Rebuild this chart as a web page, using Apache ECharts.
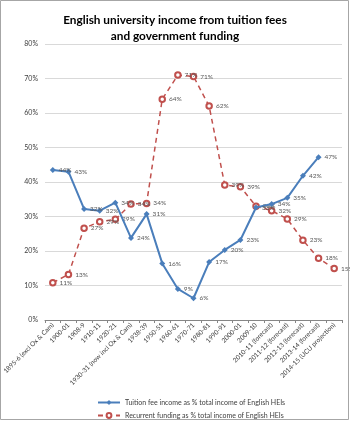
<!DOCTYPE html>
<html>
<head>
<meta charset="utf-8">
<script src="https://cdn.jsdelivr.net/npm/echarts@6/dist/echarts.min.js"></script>
<style>
html, body { margin: 0; padding: 0; background: #fff; }
#chart { width: 350px; height: 421px; }
</style>
</head>
<body>
<div id="chart"></div>
<script>
// 年份类目
var years = ['1895-6 (excl Ox & Cam)', '1900-01', '1908-9', '1910-11', '1920-21',
	'1930-31 (now incl Ox & Cam)', '1938-39', '1950-51', '1960-61', '1970-71',
	'1980-81', '1990-91', '2000-01', '2009-10', '2010-11 (forecast)',
	'2011-12 (forecast)', '2012-13 (forecast)', '2013-14 (forecast)', '2014-15 (UCU projection)'];
// 学费收入占比
var tuition = [43.5, 43, 32.2, 31.7, 34, 23.8, 30.7, 16.4, 9, 6.3, 16.8, 20.3, 23.2,
	32.6, 33.6, 35.4, 41.8, 47.2, null];
// 政府拨款占比
var recurrent = [10.8, 13.2, 26.6, 28.5, 29.2, 33.6, 33.8, 64, 71, 70.6, 62, 39.1, 38.6,
	33, 31.7, 29.3, 23.1, 17.9, 14.9];
var yTicks = [0, 10, 20, 30, 40, 50, 60, 70, 80];
var names = ['Tuition fee income as % total income of English HEIs',
	'Recurrent funding as % total income of English HEIs'];

var font = 'Lato';
var myChart = echarts.init(document.getElementById('chart'));
var label = {
	show: true,
	position: 'right',
	distance: 3,
	fontSize: 6.5,
	fontFamily: font,
	color: '#595959',
	formatter: function (p) { return Math.round(p.value) + '%'; }
};
var legendBase = {
	left: 92,
	itemWidth: 22,
	itemHeight: 6,
	textStyle: { fontSize: 7, fontFamily: font, color: '#404040' }
};
var option = {
	animation: false,
	title: {
		text: 'English university income from tuition fees\nand government funding',
		left: 'center',
		top: 7,
		textStyle: { fontSize: 11.8, fontWeight: 'bold', fontFamily: font, color: '#000', lineHeight: 16 }
	},
	graphic: [{
		type: 'rect',
		shape: { x: 0.5, y: 0.5, width: 348, height: 419 },
		style: { fill: 'none', stroke: '#a6a6a6', lineWidth: 1 },
		silent: true
	}],
	legend: [
		Object.assign({ top: 394, data: [names[0]] }, legendBase),
		Object.assign({ top: 407, data: [names[1]] }, legendBase)
	],
	grid: { left: 45, right: 8, top: 44, bottom: 101, containLabel: false },
	xAxis: {
		type: 'category',
		data: years,
		boundaryGap: true,
		axisLine: { lineStyle: { color: '#868686' } },
		axisTick: { show: true, length: 3, lineStyle: { color: '#868686' } },
		axisLabel: { rotate: 45, interval: 0, fontSize: 6.5, fontFamily: font, color: '#404040', margin: 4 }
	},
	yAxis: {
		type: 'value',
		min: 0,
		max: 80,
		interval: 10,
		axisLine: { show: false },
		axisTick: { show: false },
		splitLine: { lineStyle: { color: '#d9d9d9' } },
		axisLabel: {
			fontSize: 7,
			fontFamily: font,
			color: '#404040',
			margin: 7,
			formatter: function (v) { return yTicks.indexOf(v) >= 0 ? v + '%' : ''; }
		}
	},
	series: [{
		name: names[0],
		type: 'line',
		data: tuition,
		symbol: 'diamond',
		symbolSize: 6,
		itemStyle: { color: '#4a7ebb' },
		lineStyle: { color: '#4a7ebb', width: 2 },
		label: label,
		z: 3
	}, {
		name: names[1],
		type: 'line',
		data: recurrent,
		symbol: 'emptyCircle',
		symbolSize: 5.5,
		itemStyle: { color: '#c0504d', borderWidth: 1 },
		lineStyle: { color: '#c0504d', width: 1.5, type: [5, 4] },
		label: label,
		z: 2
	}]
};
myChart.setOption(option);
</script>
</body>
</html>
